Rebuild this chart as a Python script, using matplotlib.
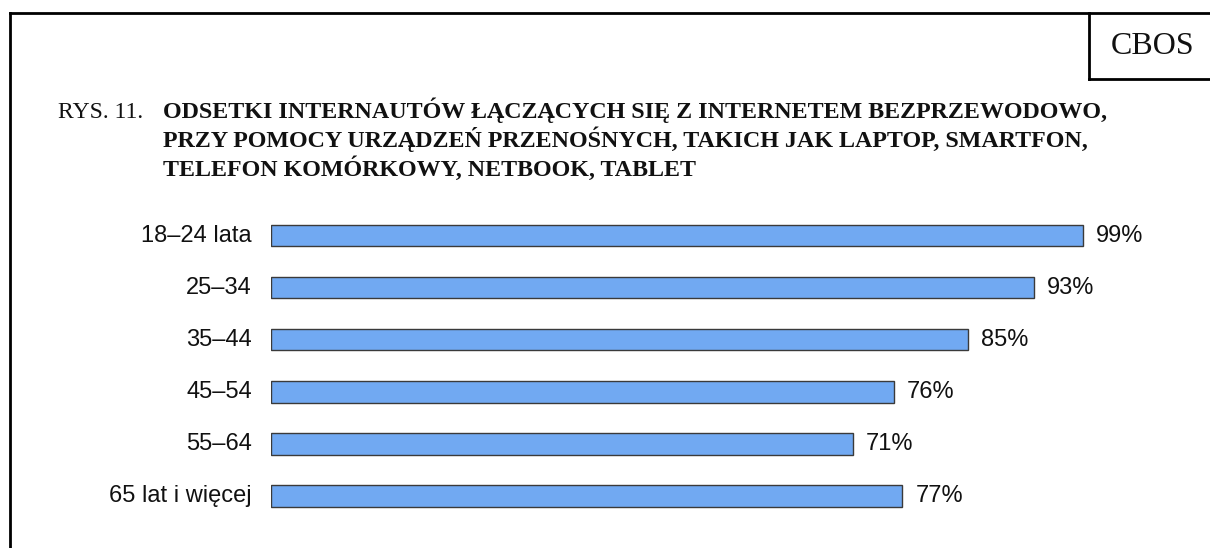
import matplotlib
matplotlib.use("Agg")
import matplotlib.pyplot as plt
from matplotlib.lines import Line2D

categories = ["18–24 lata", "25–34", "35–44", "45–54", "55–64", "65 lat i więcej"]
values = [99, 93, 85, 76, 71, 77]
value_labels = [f"{v}%" for v in values]

fig_title_prefix = "RYS. 11."
title_lines = [
    "ODSETKI INTERNAUTÓW ŁĄCZĄCYCH SIĘ Z INTERNETEM BEZPRZEWODOWO,",
    "PRZY POMOCY URZĄDZEŃ PRZENOŚNYCH, TAKICH JAK LAPTOP, SMARTFON,",
    "TELEFON KOMÓRKOWY, NETBOOK, TABLET",
]
source_label = "CBOS"

W, H = 1210, 548
fig = plt.figure(figsize=(W / 100, H / 100), dpi=100)
fig.patch.set_facecolor("white")

def fx(px):
    return px / W

def fy(py):
    return 1 - py / H

# axes: x=0 at px 271, x=100 at px 1091; rows centred every ~52px from 235.5
ax_left, ax_right = 271, 1091
ax_top, ax_bottom = 209.5, 522.1
ax = fig.add_axes([fx(ax_left), fy(ax_bottom), fx(ax_right - ax_left), (ax_bottom - ax_top) / H])
ypos = list(range(len(categories)))
ax.barh(ypos, values, height=0.41, color="#71A9F2", edgecolor="#3a3a3a", linewidth=1.0)
ax.set_xlim(0, 100)
ax.set_ylim(len(categories) - 0.5, -0.5)
ax.axis("off")

for y, v, lab, cat in zip(ypos, values, value_labels, categories):
    ax.annotate(lab, xy=(v, y), xytext=(13, 0), textcoords="offset pixels",
                ha="left", va="center", fontsize=17, family="Liberation Sans", color="#111111")
    ax.annotate(cat, xy=(0, y), xytext=(-19, 0), textcoords="offset pixels",
                ha="right", va="center", fontsize=17, family="Liberation Sans", color="#111111")

# title
baselines = [118, 147, 176]
fig.text(fx(58), fy(baselines[0]), fig_title_prefix, ha="left", va="baseline",
         fontsize=17, family="Liberation Serif", color="#111111")
for bl, line in zip(baselines, title_lines):
    fig.text(fx(163), fy(bl), line, ha="left", va="baseline",
             fontsize=17.3, family="Liberation Serif", fontweight="bold", color="#111111")

# frame lines
lw = 2.0
fig.add_artist(Line2D([fx(10), fx(10)], [fy(13), fy(H + 5)], color="black", lw=lw))
fig.add_artist(Line2D([fx(10), fx(W + 5)], [fy(13), fy(13)], color="black", lw=lw))
fig.add_artist(Line2D([fx(1089), fx(1089)], [fy(13), fy(79)], color="black", lw=lw))
fig.add_artist(Line2D([fx(1089), fx(W + 5)], [fy(79), fy(79)], color="black", lw=lw))
fig.text(fx(1153), fy(46), source_label, ha="center", va="center",
         fontsize=23, family="Liberation Serif", color="#111111")

fig.savefig("out.png", dpi=100, facecolor="white")
